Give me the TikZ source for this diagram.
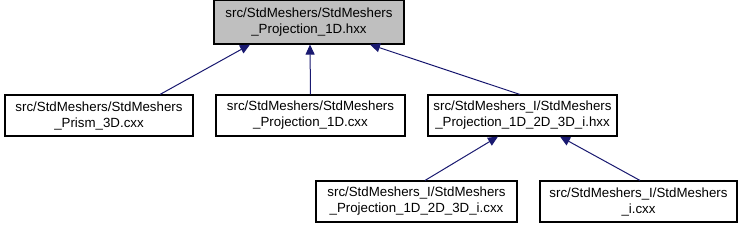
\documentclass[tikz,border=0pt]{standalone}
\usepackage{fontspec}
\setmainfont{Liberation Sans}
\usetikzlibrary{arrows.meta}
\begin{document}
\begin{tikzpicture}[x=1pt,y=-1pt,
  box/.style={draw=black,fill=white,line width=1.1pt,minimum height=41pt,inner sep=0pt,align=center,font=\fontsize{13.3pt}{16pt}\selectfont},
  edge/.style={draw={rgb,255:red,25;green,25;blue,112},line width=1pt,{Triangle[length=10pt,width=9pt]}-}]
\useasboundingbox (0,0) rectangle (744,231);
\node[box,fill={rgb,255:red,191;green,191;blue,191},minimum width=190pt,minimum height=44pt] (top) at (309,22) {src/StdMeshers/StdMeshers\\\_Projection\_1D.hxx};
\node[box,minimum width=188pt] (b1) at (99,115.5) {src/StdMeshers/StdMeshers\\\_Prism\_3D.cxx};
\node[box,minimum width=189pt] (b2) at (310.5,115.5) {src/StdMeshers/StdMeshers\\\_Projection\_1D.cxx};
\node[box,minimum width=189pt] (b3) at (522.5,115.5) {src/StdMeshers\_I/StdMeshers\\\_Projection\_1D\_2D\_3D\_i.hxx};
\node[box,minimum width=201pt] (b4) at (416.5,201.5) {src/StdMeshers\_I/StdMeshers\\\_Projection\_1D\_2D\_3D\_i.cxx};
\node[box,minimum width=197pt] (b5) at (638.5,201.5) {src/StdMeshers\_I/StdMeshers\\\_i.cxx};
\draw[edge] ([xshift=-59pt]top.south) -- ([xshift=61pt]b1.north);
\draw[edge] ([xshift=1pt]top.south) -- (b2.north);
\draw[edge] ([xshift=61pt]top.south) -- ([xshift=-2.5pt]b3.north);
\draw[edge] ([xshift=-24.5pt]b3.south) -- ([xshift=8.5pt]b4.north);
\draw[edge] ([xshift=37.5pt]b3.south) -- ([xshift=1.5pt]b5.north);
\end{tikzpicture}
\end{document}
